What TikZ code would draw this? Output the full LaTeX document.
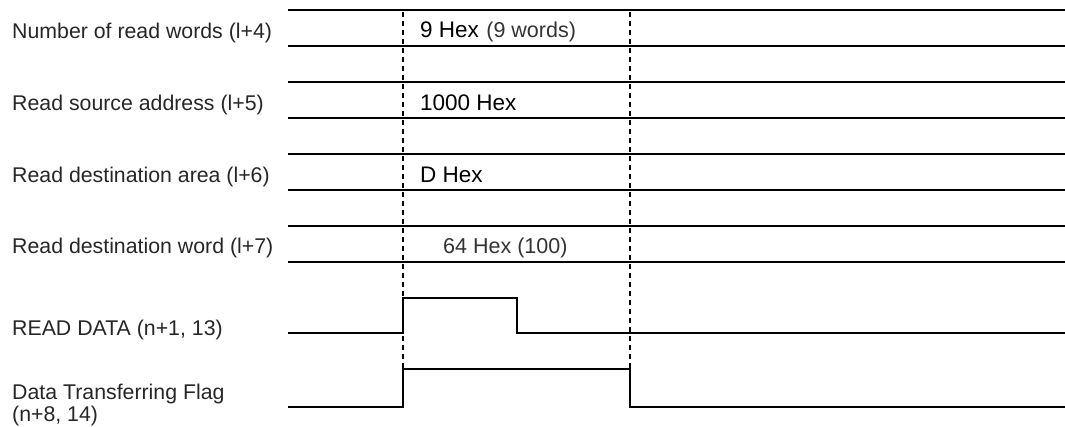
\documentclass[tikz,border=0pt]{standalone}
\usepackage{fontspec}
\setmainfont{Liberation Sans}
\begin{document}
\begin{tikzpicture}[x=1pt,y=-1pt,
  sig/.style={line width=1.6pt},
  rowline/.style={line width=1.6pt},
  guide/.style={line width=1.2pt, dash pattern=on 5pt off 4pt},
  lbl/.style={anchor=base west, inner sep=0pt, font=\fontsize{21.3}{24}\selectfont, text=black!85},
  val/.style={anchor=base west, inner sep=0pt, font=\fontsize{22.5}{26}\selectfont, text=black},
  note/.style={anchor=base west, inner sep=0pt, font=\fontsize{21.5}{26}\selectfont, text=black!80}]
\useasboundingbox (0,0) rectangle (1065,426);
% row lines
\foreach \y in {10,46,82,118,154,190,226,262}
  \draw[rowline] (288,\y) -- (1065,\y);
% labels
\node[lbl] (l1) at (12,38) {Number of read words (l+4)};
\node[lbl] (l2) at (12,110) {Read source address (l+5)};
\node[lbl] (l3) at (12,182) {Read destination area (l+6)};
\node[lbl] (l4) at (12,253) {Read destination word (l+7)};
\node[lbl] (l5) at (12,335) {READ DATA (n+1, 13)};
\node[lbl] (l6) at (12,399) {Data Transferring Flag};
\node[lbl] (l6b) at (12,421.3) {(n+8, 14)};
% values
\node[val] (v1) at (420,37) {9 Hex};
\node[note] (v1b) at ([xshift=7pt]v1.base east) {(9 words)};
\node[val] (v2) at (420,110) {1000 Hex};
\node[val] (v3) at (420,182) {D Hex};
\node[note] (v4) at (443,253) {64 Hex (100)};
% signal corners
\coordinate (rd0) at (288,333);
\coordinate (rd1) at (403,333);
\coordinate (rd2) at (403,298);
\coordinate (rd3) at (517,298);
\coordinate (rd4) at (517,333);
\coordinate (rd5) at (1065,333);
\coordinate (df0) at (288,407);
\coordinate (df1) at (403,407);
\coordinate (df2) at (403,369);
\coordinate (df3) at (630,369);
\coordinate (df4) at (630,407);
\coordinate (df5) at (1065,407);
\coordinate (g1) at (403,12);
\coordinate (g2) at (630,12);
\draw[sig] (rd0) -- (rd1) -- (rd2) -- (rd3) -- (rd4) -- (rd5);
\draw[sig] (df0) -- (df1) -- (df2) -- (df3) -- (df4) -- (df5);
\draw[guide] (g1) -- (df2);
\draw[guide] (g2) -- (df3);
\end{tikzpicture}
\end{document}
